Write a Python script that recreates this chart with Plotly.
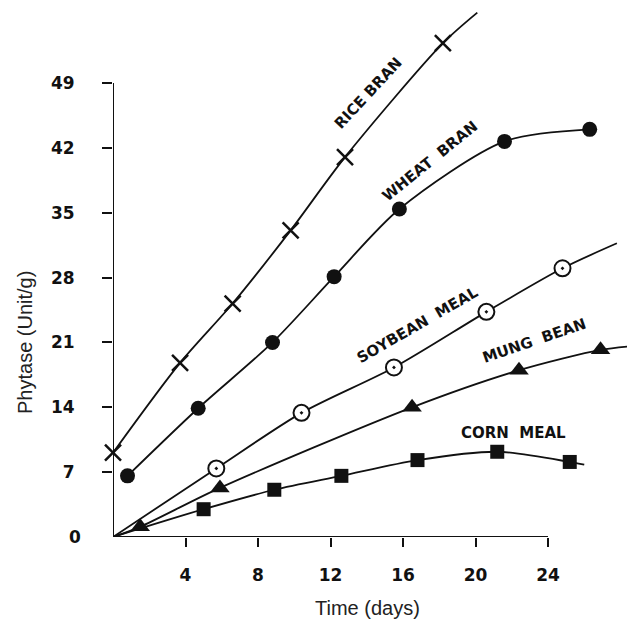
import plotly.graph_objects as go

# ---- data (days, Unit/g) ----
rice_x = [0.0, 3.7, 6.6, 9.8, 12.8, 18.2]
rice_y = [9.1, 18.8, 25.2, 33.1, 41.0, 53.3]
rice_end = (20.1, 56.6)

wheat_x = [0.8, 4.7, 8.8, 12.2, 15.8, 21.6, 26.3]
wheat_y = [6.6, 13.9, 21.0, 28.1, 35.4, 42.7, 44.0]

soy_x = [5.7, 10.4, 15.5, 20.6, 24.8]
soy_y = [7.4, 13.4, 18.3, 24.3, 29.0]
soy_end = (27.8, 31.7)

mung_x = [1.5, 5.9, 16.5, 22.4, 26.9]
mung_y = [1.1, 5.3, 14.0, 18.0, 20.2]
mung_end = (28.6, 20.6)

corn_x = [5.0, 8.9, 12.6, 16.8, 21.2, 25.2]
corn_y = [3.0, 5.1, 6.6, 8.3, 9.2, 8.1]
corn_end = (26.0, 7.8)

origin = (0.0, 0.0)

x_ticks = [4, 8, 12, 16, 20, 24]
y_ticks = [7, 14, 21, 28, 35, 42, 49]

labels = ["RICE\u00a0BRAN", "WHEAT\u00a0\u00a0BRAN", "SOYBEAN\u00a0\u00a0MEAL",
          "MUNG\u00a0\u00a0BEAN", "CORN\u00a0\u00a0MEAL"]

fig = go.Figure()

BLACK = "#111111"

def curve(xs, ys, start=None, end=None):
    cx = ([start[0]] if start else []) + list(xs) + ([end[0]] if end else [])
    cy = ([start[1]] if start else []) + list(ys) + ([end[1]] if end else [])
    fig.add_trace(go.Scatter(x=cx, y=cy, mode="lines",
                             line=dict(color=BLACK, width=1.8, shape="spline", smoothing=0.8),
                             hoverinfo="skip", showlegend=False))

curve(rice_x, rice_y, None, rice_end)
curve(wheat_x, wheat_y)
curve(soy_x, soy_y, origin, soy_end)
curve(mung_x, mung_y, origin, mung_end)
curve(corn_x, corn_y, origin, corn_end)

def markers(xs, ys, symbol, size, color, lw):
    fig.add_trace(go.Scatter(x=xs, y=ys, mode="markers", cliponaxis=False,
                             marker=dict(symbol=symbol, size=size, color=color,
                                         line=dict(color=BLACK, width=lw)),
                             showlegend=False))

markers(rice_x, rice_y, "x-thin", 16, BLACK, 2.5)
markers(wheat_x, wheat_y, "circle", 15, BLACK, 0)
markers(soy_x, soy_y, "circle-dot", 16, "white", 2)
markers(mung_x, mung_y, "triangle-up", 17, BLACK, 0)
markers(corn_x, corn_y, "square", 14, BLACK, 0)

# axis lines (span 0..24 and 0..49 like the reference)
fig.add_shape(type="line", x0=0, x1=x_ticks[-1], y0=0, y1=0, xref="x", yref="y",
              line=dict(color=BLACK, width=2))
fig.add_shape(type="line", x0=0, x1=0, y0=0, y1=y_ticks[-1], xref="x", yref="y",
              line=dict(color=BLACK, width=2))

lab_font = dict(family="DejaVu Sans", size=15, color=BLACK, weight="bold")
lab_pos = [(14.1, 47.9, -47), (17.5, 40.6, -39), (16.8, 22.9, -30),
           (23.2, 21.2, -19), (22.1, 11.2, 0)]
for t, (ax_, ay_, ang) in zip(labels, lab_pos):
    fig.add_annotation(x=ax_, y=ay_, xref="x", yref="y", text=t, showarrow=False,
                       textangle=ang, font=lab_font, xanchor="center", yanchor="middle")

tick_font = dict(family="DejaVu Sans", size=17, color=BLACK, weight="bold")
fig.add_annotation(x=0, y=0, xref="x", yref="y", text="0", showarrow=False,
                   xanchor="right", yanchor="middle", xshift=-30, font=tick_font)

# page has an 8px body margin: figure is drawn at (8, 8) in the window
PLOT_H = 529
title_font = dict(family="Liberation Sans", size=20, color="#222222")
fig.add_annotation(x=-0.1686, y=(537 - 342) / PLOT_H, xref="paper", yref="paper",
                   text="Phytase (Unit/g)", textangle=-90, showarrow=False, font=title_font,
                   xanchor="center", yanchor="middle")
fig.add_annotation(x=0.4885, y=(537 - 608) / PLOT_H, xref="paper", yref="paper",
                   text="Time (days)", showarrow=False, font=title_font,
                   xanchor="center", yanchor="middle")

fig.update_xaxes(range=[0, 522 / 18.125], tickvals=x_ticks, ticks="outside", ticklen=9,
                 tickwidth=2, tickcolor=BLACK, showgrid=False, zeroline=False,
                 showline=False, tickfont=tick_font, ticklabelstandoff=14)
fig.update_yaxes(range=[0, PLOT_H / 9.265], tickvals=y_ticks, ticks="outside", ticklen=10,
                 tickwidth=2, tickcolor=BLACK, showgrid=False, zeroline=False,
                 showline=False, tickfont=tick_font, ticklabelstandoff=24)

fig.update_layout(width=627, height=612, margin=dict(l=105, r=0, t=0, b=83),
                  plot_bgcolor="white", paper_bgcolor="white", showlegend=False)

fig.write_html("out.html")
